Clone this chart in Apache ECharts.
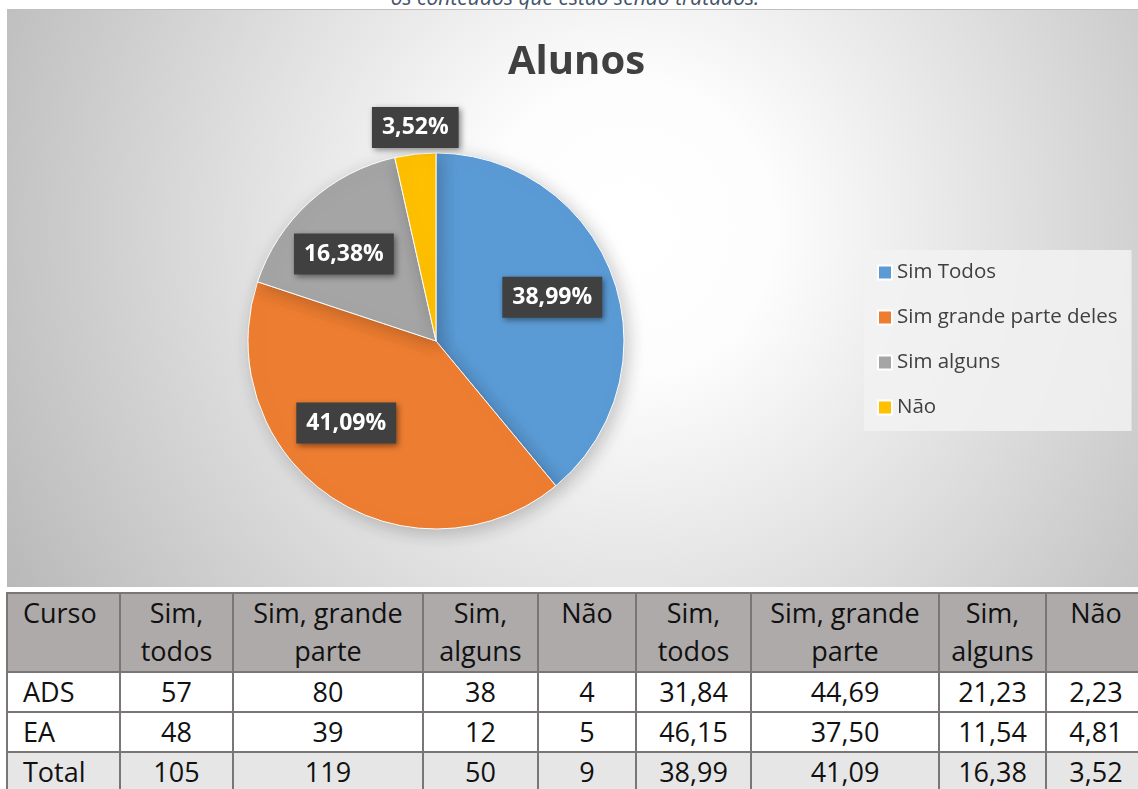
<!DOCTYPE html>
<html>
<head>
<meta charset="utf-8">
<script src="https://cdn.jsdelivr.net/npm/echarts@6/dist/echarts.min.js"></script>
<style>
  body { margin: 0; background: #fff; width: 1138px; height: 789px; overflow: hidden; position: relative; font-family: 'Open Sans', sans-serif; }
  #topText { position: absolute; left: 0; width: 1150px; top: -17px; text-align: center; font-style: italic; font-size: 21px; color: #44546a; }
  #chart { position: absolute; left: 7px; top: 9px; width: 1131px; height: 578px; border-top: 1px solid #c0c0c0; box-sizing: border-box; }
  #tbl { position: absolute; left: 6px; top: 592px; border-collapse: collapse; table-layout: fixed; font-size: 27px; color: #111; }
  #tbl td { border: 2px solid #7b7676; padding: 0 4px; height: 36px; line-height: 38px; text-align: center; vertical-align: top; white-space: nowrap; overflow: hidden; }
  #tbl tr.head td { background: #aeaaaa; height: 77px; }
  #tbl tr.total td { background: #e7e6e6; }
  #tbl td.first { text-align: left; padding-left: 15px; }
</style>
</head>
<body>
<div id="topText">os conteúdos que estão sendo tratados.</div>
<div id="chart"></div>
<table id="tbl"></table>
<script>
// dados do gráfico
var categories = ['Sim Todos', 'Sim grande parte deles', 'Sim alguns', 'Não'];
var percentages = [38.99, 41.09, 16.38, 3.52];
var colors = ['#5b9bd5', '#ed7d31', '#a5a5a5', '#ffc000'];
// deslocamento dos rótulos (estilo)
var labelOffsets = [[25, -11], [-35, 2], [-27, -15], [-10, -117]];

// dados da tabela
var tableHeader = ['Curso', 'Sim,\ntodos', 'Sim, grande\nparte', 'Sim,\nalguns', 'Não', 'Sim,\ntodos', 'Sim, grande\nparte', 'Sim,\nalguns', 'Não'];
var rowADS = ['ADS', '57', '80', '38', '4', '31,84', '44,69', '21,23', '2,23'];
var rowEA = ['EA', '48', '39', '12', '5', '46,15', '37,50', '11,54', '4,81'];
var rowTotal = ['Total', '105', '119', '50', '9', '38,99', '41,09', '16,38', '3,52'];
var colWidths = [113, 113, 190, 115, 98, 115, 188, 107, 100];

// monta a tabela
var tbl = document.getElementById('tbl');
var colgroup = document.createElement('colgroup');
colWidths.forEach(function (w) {
    var col = document.createElement('col');
    col.style.width = w + 'px';
    colgroup.appendChild(col);
});
tbl.appendChild(colgroup);
tbl.style.width = colWidths.reduce(function (a, b) { return a + b; }, 0) + 'px';
function addRow(cells, cls) {
    var tr = document.createElement('tr');
    if (cls) tr.className = cls;
    cells.forEach(function (c, i) {
        var td = document.createElement('td');
        td.innerHTML = c.replace('\n', '<br>');
        if (i === 0) td.className = 'first';
        tr.appendChild(td);
    });
    tbl.appendChild(tr);
}
addRow(tableHeader, 'head');
addRow(rowADS);
addRow(rowEA);
addRow(rowTotal, 'total');

var myChart = echarts.init(document.getElementById('chart'));
myChart.setOption({
    backgroundColor: new echarts.graphic.RadialGradient(0.55, 0.38, 1.25, [
        {offset: 0, color: '#ffffff'},
        {offset: 0.2, color: '#fdfdfd'},
        {offset: 1, color: '#b8b8b8'}
    ]),
    title: {
        text: 'Alunos',
        left: 496,
        top: 28,
        textStyle: {
            fontFamily: 'Open Sans',
            fontSize: 40,
            fontWeight: 'bold',
            color: '#404040'
        }
    },
    legend: {
        orient: 'vertical',
        left: 857,
        top: 240,
        padding: [12, 14, 13, 13],
        backgroundColor: 'rgba(242,242,242,0.85)',
        itemWidth: 14,
        itemHeight: 14,
        itemGap: 24,
        icon: 'rect',
        data: categories,
        textStyle: {
            fontFamily: 'Open Sans',
            fontSize: 20.5,
            color: '#404040'
        }
    },
    series: [{
        type: 'pie',
        center: [429, 331],
        radius: 188,
        startAngle: 90,
        clockwise: true,
        animation: false,
        silent: true,
        itemStyle: {
            borderColor: '#fff',
            borderWidth: 1,
            shadowBlur: 18,
            shadowColor: 'rgba(0,0,0,0.22)',
            shadowOffsetX: 4,
            shadowOffsetY: 4
        },
        label: {
            show: true,
            position: 'inside',
            fontFamily: 'Open Sans',
            fontSize: 23,
            fontWeight: 'bold',
            color: '#fff',
            lineHeight: 25,
            backgroundColor: '#404040',
            padding: [8, 10],
            shadowBlur: 6,
            shadowColor: 'rgba(0,0,0,0.45)',
            shadowOffsetX: 2,
            shadowOffsetY: 2,
            formatter: function (p) {
                return p.value.toFixed(2).replace('.', ',') + '%';
            }
        },
        labelLine: {show: false},
        data: categories.map(function (name, i) {
            return {
                name: name,
                value: percentages[i],
                itemStyle: {color: colors[i]},
                label: {offset: labelOffsets[i]}
            };
        })
    }]
});
</script>
</body>
</html>
